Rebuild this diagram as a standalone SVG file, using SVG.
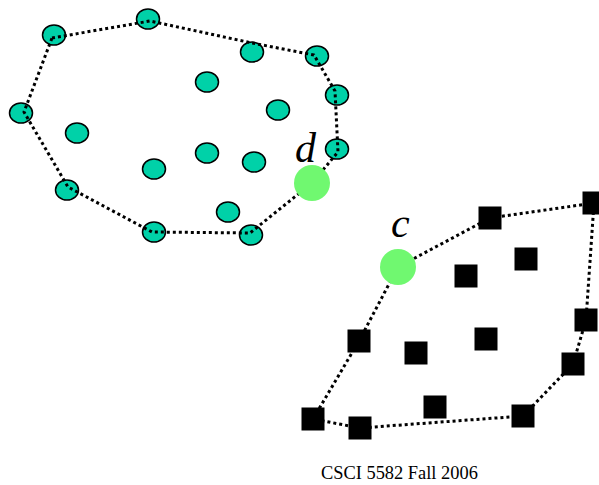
<svg xmlns="http://www.w3.org/2000/svg" width="599" height="485" viewBox="0 0 599 485">
  <style>
    .pt { fill: #00D1A8; stroke: #000; stroke-width: 1.5; }
    .sq { fill: #000; }
    .hl { fill: #70F870; }
    .hull { fill: none; stroke: #000; stroke-width: 3; stroke-dasharray: 3 3; stroke-linejoin: round; }
    .lbl { font-family: "Liberation Serif", "Times New Roman", serif; font-style: italic; font-size: 42px; fill: #000; }
    .cap { font-family: "Liberation Serif", "Times New Roman", serif; font-size: 18.4px; fill: #000; }
  </style>
  <rect width="599" height="485" fill="#fff"/>

  <!-- cluster A: round points -->
  <g id="clusterA">
    <ellipse id="a1" class="pt" cx="54" cy="35" rx="11.5" ry="10"/>
    <ellipse id="a2" class="pt" cx="148" cy="19" rx="11.5" ry="10"/>
    <ellipse id="a3" class="pt" cx="21" cy="113" rx="11.5" ry="10"/>
    <ellipse id="a4" class="pt" cx="77" cy="133" rx="11.5" ry="10"/>
    <ellipse id="a5" class="pt" cx="252" cy="52" rx="11.5" ry="10"/>
    <ellipse id="a6" class="pt" cx="317" cy="56" rx="11.5" ry="10"/>
    <ellipse id="a7" class="pt" cx="207" cy="82" rx="11.5" ry="10"/>
    <ellipse id="a8" class="pt" cx="337" cy="95" rx="11.5" ry="10"/>
    <ellipse id="a9" class="pt" cx="278" cy="110" rx="11.5" ry="10"/>
    <ellipse id="a10" class="pt" cx="207" cy="153" rx="11.5" ry="10"/>
    <ellipse id="a11" class="pt" cx="154" cy="169" rx="11.5" ry="10"/>
    <ellipse id="a12" class="pt" cx="254" cy="162" rx="11.5" ry="10"/>
    <ellipse id="a13" class="pt" cx="337" cy="149" rx="11.5" ry="10"/>
    <ellipse id="a14" class="pt" cx="67" cy="190" rx="11.5" ry="10"/>
    <ellipse id="a15" class="pt" cx="228" cy="212" rx="11.5" ry="10"/>
    <ellipse id="a16" class="pt" cx="154" cy="232" rx="11.5" ry="10"/>
    <ellipse id="a17" class="pt" cx="251" cy="235" rx="11.5" ry="10"/>
  </g>

  <!-- convex hulls -->
  <g id="hulls">
    <polygon id="hullA" class="hull" points="52,38 150,21 252,43 314,55 335,91 338,152 312,183 250,233 152,232 68,187 24,112"/>
    <polygon id="hullB" class="hull" points="490,218 594,203 586,320 573,364 523,416 360,428 313,419 359,341 398,267"/>
  </g>

  <!-- cluster B: square points -->
  <g id="clusterB">
    <rect id="b1" class="sq" x="478.5" y="206.5" width="23" height="23"/>
    <rect id="b2" class="sq" x="582.5" y="191.5" width="23" height="23"/>
    <rect id="b3" class="sq" x="514.5" y="247.5" width="23" height="23"/>
    <rect id="b4" class="sq" x="454.5" y="264.5" width="23" height="23"/>
    <rect id="b5" class="sq" x="574.5" y="308.5" width="23" height="23"/>
    <rect id="b6" class="sq" x="347.5" y="329.5" width="23" height="23"/>
    <rect id="b7" class="sq" x="474.5" y="327.5" width="23" height="23"/>
    <rect id="b8" class="sq" x="404.5" y="341.5" width="23" height="23"/>
    <rect id="b9" class="sq" x="561.5" y="352.5" width="23" height="23"/>
    <rect id="b10" class="sq" x="301.5" y="407.5" width="23" height="23"/>
    <rect id="b11" class="sq" x="348.5" y="416.5" width="23" height="23"/>
    <rect id="b12" class="sq" x="423.5" y="395.5" width="23" height="23"/>
    <rect id="b13" class="sq" x="511.5" y="404.5" width="23" height="23"/>
  </g>

  <!-- the two bridge points -->
  <g id="d">
    <circle class="hl" cx="312" cy="183" r="18"/>
    <text class="lbl" x="295" y="162">d</text>
  </g>
  <g id="c">
    <circle class="hl" cx="398" cy="267" r="18"/>
    <text class="lbl" x="391" y="237">c</text>
  </g>

  <text class="cap" x="321" y="479">CSCI 5582 Fall 2006</text>
</svg>
